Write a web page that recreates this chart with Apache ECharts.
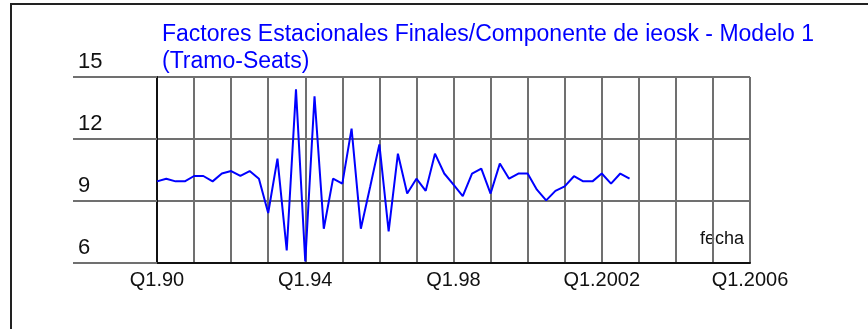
<!DOCTYPE html>
<html>
<head>
<meta charset="utf-8">
<title>Factores Estacionales Finales - ieosk</title>
<script src="https://cdn.jsdelivr.net/npm/echarts@6/dist/echarts.min.js"></script>
<style>
  html, body { margin: 0; padding: 0; background: #ffffff; }
  #chart { width: 868px; height: 329px; }
</style>
</head>
<body>
<div id="chart"></div>
<script>
// Quarterly seasonal factors, 1990Q1 .. 2002Q4
const years = [1990, 1991, 1992, 1993, 1994, 1995, 1996, 1997, 1998, 1999, 2000, 2001, 2002];
const quarters = [1, 2, 3, 4];
const seasonalFactors = [
  9.95, 10.08, 9.95, 9.95,
  10.21, 10.21, 9.95, 10.33,
  10.45, 10.21, 10.45, 10.08,
  8.42, 11.05, 6.61, 14.40,
  6.08, 14.07, 7.66, 10.08,
  9.84, 12.50, 7.66, 9.68,
  11.74, 7.53, 11.29, 9.36,
  10.08, 9.49, 11.29, 10.33,
  9.79, 9.24, 10.33, 10.57,
  9.36, 10.81, 10.08, 10.33,
  10.33, 9.55, 9.03, 9.49,
  9.71, 10.20, 9.95, 9.95,
  10.33, 9.84, 10.33, 10.08
];
const xTickLabels = { 1990: 'Q1.90', 1994: 'Q1.94', 1998: 'Q1.98', 2002: 'Q1.2002', 2006: 'Q1.2006' };
const yTicks = [6, 9, 12, 15];

const titleText = 'Factores Estacionales Finales/Componente de ieosk - Modelo 1\n(Tramo-Seats)';
const axisName = 'fecha';

// time position of each quarter (fraction of a year)
const points = [];
years.forEach(function (y, yi) {
  quarters.forEach(function (q, qi) {
    points.push([y + (q - 1) / 4, seasonalFactors[yi * 4 + qi]]);
  });
});

const FONT = "'Liberation Sans', Arial, sans-serif";
const chart = echarts.init(document.getElementById('chart'), null, { renderer: 'canvas' });

chart.setOption({
  animation: false,
  backgroundColor: '#ffffff',
  title: {
    text: titleText,
    left: 157,
    top: 16,
    textStyle: { color: '#0000ff', fontSize: 23, fontWeight: 'normal', fontFamily: FONT, lineHeight: 27 }
  },
  grid: { left: 157, right: 118, top: 77, bottom: 66, containLabel: false },
  xAxis: {
    type: 'value',
    min: 1990,
    max: 2006,
    interval: 1,
    axisLine: { show: true, lineStyle: { color: '#111111', width: 2 } },
    axisTick: { show: false },
    splitLine: { show: true, lineStyle: { color: '#707070', width: 2 } },
    axisLabel: {
      margin: 7,
      color: '#111111',
      fontSize: 20,
      fontFamily: FONT,
      showMinLabel: true,
      showMaxLabel: true,
      formatter: function (v) { return xTickLabels[Math.round(v)] || ''; }
    }
  },
  yAxis: {
    type: 'value',
    min: yTicks[0],
    max: yTicks[yTicks.length - 1],
    interval: 3,
    axisLine: { show: true, lineStyle: { color: '#111111', width: 2 } },
    axisTick: { show: true, inside: false, length: 84, lineStyle: { color: '#707070', width: 2 } },
    splitLine: { show: true, lineStyle: { color: '#707070', width: 2 } },
    axisLabel: {
      margin: 79,
      align: 'left',
      verticalAlign: 'bottom',
      padding: [0, 0, 4, 0],
      color: '#111111',
      fontSize: 22,
      fontFamily: FONT
    }
  },
  graphic: [
    { type: 'line', shape: { x1: 11, y1: 4, x2: 11, y2: 329 }, style: { stroke: '#222222', lineWidth: 2 } },
    { type: 'line', shape: { x1: 10, y1: 4, x2: 868, y2: 4 }, style: { stroke: '#222222', lineWidth: 2 } },
    { type: 'text', left: 700, top: 230, style: { text: axisName, fill: '#111111', font: '18px ' + FONT } }
  ],
  series: [{
    type: 'line',
    data: points,
    showSymbol: false,
    symbol: 'none',
    lineStyle: { color: '#0000ff', width: 2 },
    itemStyle: { color: '#0000ff' },
    z: 5
  }]
});
</script>
</body>
</html>
